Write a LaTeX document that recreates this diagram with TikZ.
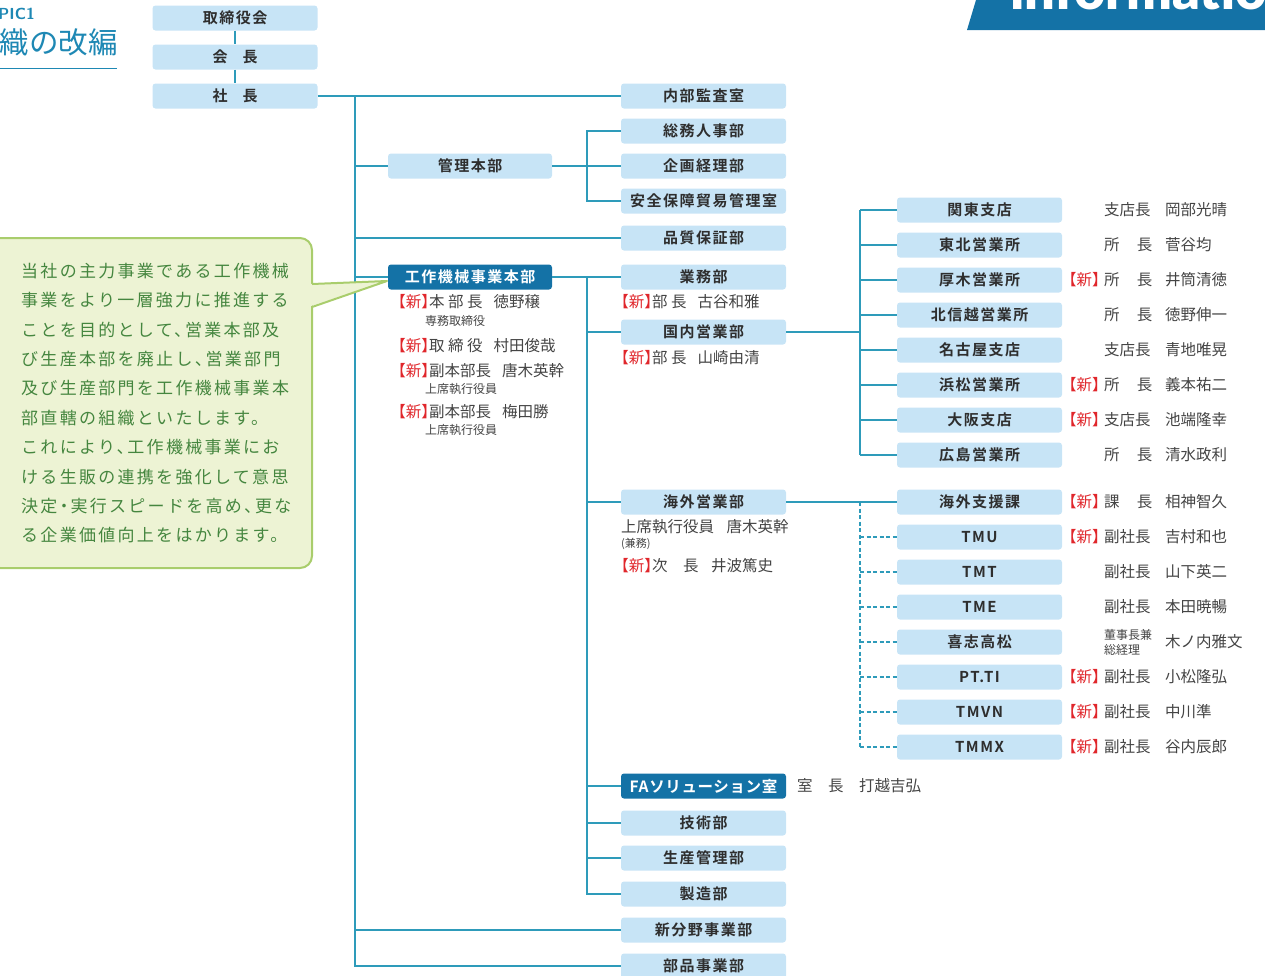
\documentclass[tikz,border=0pt]{standalone}
\usepackage{fontspec}
\setmainfont{Noto Sans CJK JP}
\newfontfamily\jp[RawFeature={+halt}]{Noto Sans CJK JP}
\newfontfamily\jpb[LetterSpace=10]{Noto Sans CJK JP Bold}
\newfontfamily\jpfa[LetterSpace=4]{Noto Sans CJK JP Bold}
\newfontfamily\jpcal[LetterSpace=13.5,RawFeature={+halt}]{Noto Sans CJK JP}
\newfontfamily\latb{Lato Black}
\definecolor{boxblue}{HTML}{C7E4F6}
\definecolor{darkblue}{HTML}{1472A6}
\definecolor{lineteal}{HTML}{2E9BBA}
\definecolor{txt}{HTML}{2E2E2E}
\definecolor{pgray}{HTML}{444444}
\definecolor{newred}{HTML}{E0262B}
\definecolor{calfill}{HTML}{EDF3D4}
\definecolor{calborder}{HTML}{A9CD6C}
\definecolor{caltext}{HTML}{45863F}
\definecolor{headteal}{HTML}{1E88B4}
\newcommand\shin{{\jp\textcolor{newred}{【新】}}}
\tikzset{
  box/.style={fill=boxblue, rounded corners=3pt, minimum width=165pt, minimum height=25pt, inner sep=0pt, font=\jpb\fontsize{15}{15}\selectfont, text=txt},
  darkbox/.style={box, fill=darkblue, text=white},
  ln/.style={draw=lineteal, line width=2pt},
  dln/.style={draw=lineteal, line width=1.6pt, dash pattern=on 4pt off 2.5pt},
  person/.style={anchor=west, inner sep=0pt, font=\jp\fontsize{15.5}{15.5}\selectfont, text=pgray},
  small/.style={anchor=west, inner sep=0pt, font=\jp\fontsize{12}{12}\selectfont, text=pgray},
  cal/.style={anchor=west, inner sep=0pt, font=\jpcal\fontsize{17}{17}\selectfont, text=caltext}
}
\begin{document}
\begin{tikzpicture}[x=1pt,y=-1pt]
\useasboundingbox (0,0) rectangle (1265,975);
\clip (0,0) rectangle (1265,975);
% header
\fill[darkblue] (979,-10) -- (1275,-10) -- (1275,30) -- (967,30) -- cycle;
\node[anchor=base west, inner sep=0pt, text=white, font=\latb\fontsize{54}{54}\selectfont] (info) at (1010,9) {information};
\node[anchor=base east, inner sep=0pt, text=headteal, font=\sffamily\bfseries\fontsize{16}{16}\selectfont] (topic) at (35,19) {TOPIC1};
\node[anchor=base east, inner sep=0pt, text=headteal, font=\jp\fontsize{29.5}{29.5}\selectfont] (title) at (118,53) {組織の改編};
\draw[headteal, line width=1pt] (0,68) -- (117,68);
% top boxes
\node[box] (tori) at (235,18) {取締役会};
\node[box] (kaicho) at (235,57) {会\hspace{1em}長};
\node[box] (shacho) at (235,96) {社\hspace{1em}長};
\draw[ln, line width=1.6pt] (tori.south) -- (kaicho.north);
\draw[ln, line width=1.6pt] (kaicho.south) -- (shacho.north);
% middle boxes
\node[box] (naibu) at (703.5,96) {内部監査室};
\node[box] (somu) at (703.5,131) {総務人事部};
\node[box] (kikaku) at (703.5,166) {企画経理部};
\node[box] (anzen) at (703.5,201) {安全保障貿易管理室};
\node[box] (hinshitsu) at (703.5,238) {品質保証部};
\node[box] (gyomu) at (703.5,277) {業務部};
\node[box] (kokunai) at (703.5,332) {国内営業部};
\node[box] (kaigai) at (703.5,502) {海外営業部};
\node[darkbox, font=\jpfa\fontsize{15.5}{15.5}\selectfont] (fa) at (703.5,786) {FAソリューション室};
\node[box] (gijutsu) at (703.5,823) {技術部};
\node[box] (seisan) at (703.5,858) {生産管理部};
\node[box] (seizo) at (703.5,894) {製造部};
\node[box] (shinbun) at (703.5,930) {新分野事業部};
\node[box] (buhin) at (703.5,966) {部品事業部};
\node[box, minimum width=164pt] (kanri) at (470,166) {管理本部};
\node[darkbox, minimum width=164pt] (kosaku) at (470,277) {工作機械事業本部};
% right boxes
\foreach \n/\t/\y in {kanto/関東支店/210, tohoku/東北営業所/245, atsugi/厚木営業所/280, hokushin/北信越営業所/315, nagoya/名古屋支店/350, hamamatsu/浜松営業所/385, osaka/大阪支店/420, hiroshima/広島営業所/455, shien/海外支援課/502, tmu/TMU/537, tmt/TMT/572, tme/TME/607, kishi/喜志高松/642, ptti/PT.TI/677, tmvn/TMVN/712, tmmx/TMMX/747}
  \node[box] (\n) at (979.5,\y) {\t};
% coordinates for trunks
\coordinate (mv) at (355,96);
\coordinate (kv) at (587,277);
\coordinate (rv) at (860,332);
% main trunk
\draw[ln] (shacho.east) -- (naibu.west);
\draw[ln] (mv) -- (mv |- buhin.west) -- (buhin.west);
\draw[ln] (mv |- shinbun.west) -- (shinbun.west);
\draw[ln] (mv |- kanri.west) -- (kanri.west);
\draw[ln] (mv |- hinshitsu.west) -- (hinshitsu.west);
\draw[ln] (mv |- kosaku.west) -- (kosaku.west);
% kanri branch
\draw[ln] (kanri.east) -- (kikaku.west);
\draw[ln] (somu.west) -- (kv |- somu.west) -- (kv |- anzen.west) -- (anzen.west);
% kosaku branch
\draw[ln] (kosaku.east) -- (gyomu.west);
\draw[ln] (kv) -- (kv |- seizo.west) -- (seizo.west);
\foreach \n in {kokunai, kaigai, fa, gijutsu, seisan}
  \draw[ln] (kv |- \n.west) -- (\n.west);
% kokunai branch
\draw[ln] (kokunai.east) -- (rv);
\draw[ln] (rv |- kanto.west) -- (rv |- hiroshima.west);
\foreach \n in {kanto, tohoku, atsugi, hokushin, nagoya, hamamatsu, osaka, hiroshima}
  \draw[ln] (rv |- \n.west) -- (\n.west);
% overseas branch
\draw[ln] (kaigai.east) -- (shien.west);
\draw[dln] (rv |- shien.west) -- (rv |- tmmx.west);
\foreach \n in {tmu, tmt, tme, kishi, ptti, tmvn, tmmx}
  \draw[dln] (rv |- \n.west) -- (\n.west);
% callout
\draw[fill=calfill, draw=calborder, line width=2pt, rounded corners=12pt] (-12,238) rectangle (312,568);
\fill[calfill] (308,284) -- (387,281) -- (308,307) -- cycle;
\draw[calborder, line width=2pt, line join=round] (312,284) -- (387,281) -- (312,307);
\node[cal] (c1) at (21,271) {当社の主力事業である工作機械};
\node[cal] (c2) at (21,300) {事業をより一層強力に推進する};
\node[cal] (c3) at (21,330) {ことを目的として、営業本部及};
\node[cal] (c4) at (21,359) {び生産本部を廃止し、営業部門};
\node[cal] (c5) at (21,388) {及び生産部門を工作機械事業本};
\node[cal] (c6) at (21,418) {部直轄の組織といたします。};
\node[cal] (c7) at (21,447) {これにより、工作機械事業にお};
\node[cal] (c8) at (21,477) {ける生販の連携を強化して意思};
\node[cal] (c9) at (21,506) {決定・実行スピードを高め、更な};
\node[cal] (c10) at (21,535) {る企業価値向上をはかります。};
% people under kosaku
\node[person] (p1) at (398,302) {\shin 本 部 長\hspace{0.7em}徳野穣};
\node[small] (p1s) at (425,321) {専務取締役};
\node[person] (p2) at (398,346) {\shin 取 締 役\hspace{0.7em}村田俊哉};
\node[person] (p3) at (398,371) {\shin 副本部長\hspace{0.7em}唐木英幹};
\node[small] (p3s) at (425,389) {上席執行役員};
\node[person] (p4) at (398,412) {\shin 副本部長\hspace{0.7em}梅田勝};
\node[small] (p4s) at (425,430) {上席執行役員};
% people under middle
\node[person] (g1) at (621,302) {\shin 部 長\hspace{0.7em}古谷和雅};
\node[person] (k1) at (621,358) {\shin 部 長\hspace{0.7em}山崎由清};
\node[person] (o1) at (621,527) {上席執行役員\hspace{0.8em}唐木英幹};
\node[small, font=\jp\fontsize{11}{11}\selectfont] (o1s) at (621,544) {(兼務)};
\node[person] (o2) at (621,566) {\shin 次\hspace{1em}長\hspace{0.8em}井波篤史};
\node[person] (fa1) at (797,786) {室\hspace{1em}長\hspace{1em}打越吉弘};
% right column people
\coordinate (rt) at (1104,0);
\coordinate (rn) at (1165,0);
\coordinate (rs) at (1100,0);
\foreach \n/\tt/\nm in {kanto/支店長/岡部光晴, tohoku/所\hspace{1.1em}長/菅谷均, atsugi/所\hspace{1.1em}長/井筒清徳, hokushin/所\hspace{1.1em}長/徳野伸一, nagoya/支店長/青地唯晃, hamamatsu/所\hspace{1.1em}長/義本祐二, osaka/支店長/池端隆幸, hiroshima/所\hspace{1.1em}長/清水政利, shien/課\hspace{1.1em}長/相神智久, tmu/副社長/吉村和也, tmt/副社長/山下英二, tme/副社長/本田暁暢, ptti/副社長/小松隆弘, tmvn/副社長/中川準, tmmx/副社長/谷内辰郎}{
  \node[person] (t-\n) at (rt |- \n.west) {\tt};
  \node[person] (m-\n) at (rn |- \n.west) {\nm};
}
\foreach \n in {atsugi, hamamatsu, osaka, shien, tmu, ptti, tmvn, tmmx}
  \node[person, anchor=east] (s-\n) at (rs |- \n.west) {\shin};
\node[small] (t-kishi) at ([yshift=7.5pt]rt |- kishi.west) {董事長兼};
\node[small] (t-kishi2) at ([yshift=-7.5pt]rt |- kishi.west) {総経理};
\node[person] (m-kishi) at (rn |- kishi.west) {木ノ内雅文};
\end{tikzpicture}
\end{document}
